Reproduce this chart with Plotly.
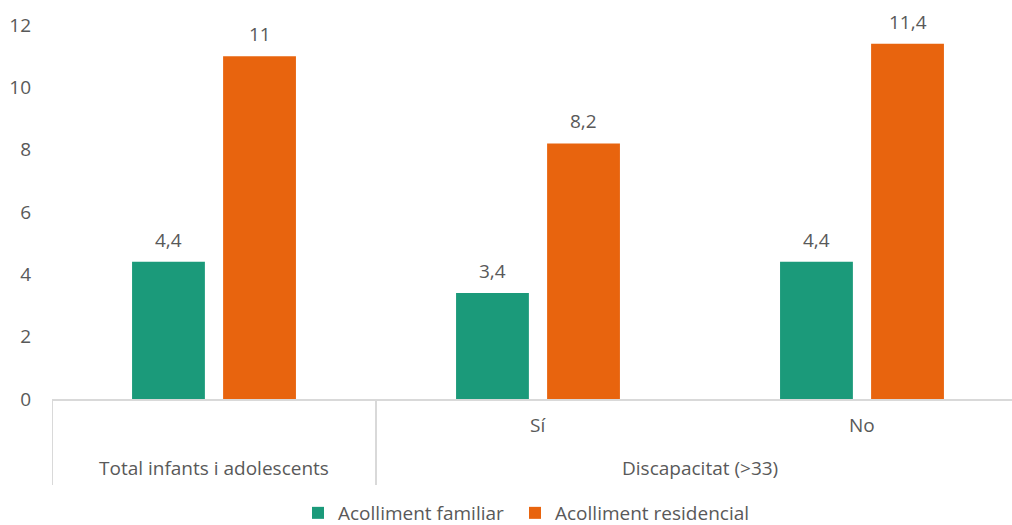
import plotly.graph_objects as go

# Categories on the x axis; the last two belong to one outer group
categories = ["Total infants i adolescents", "Sí", "No"]
group_label = "Discapacitat (>33)"
group_members = ["Sí", "No"]

series_names = ["Acolliment familiar", "Acolliment residencial"]
familiar = [4.4, 3.4, 4.4]
residencial = [11, 8.2, 11.4]

y_ticks = [0, 2, 4, 6, 8, 10, 12]

colors = ["#1b9a7a", "#e8640e"]
text_color = "#595959"
line_color = "#d9d9d9"
font_family = "Open Sans, Noto Sans, sans-serif"
fsize = 19

BARGAP = 0.438
PLOT_W = 1012 - 52
PLOT_H = 525 - 25 - 126
X_MAX = 2.463  # last category runs slightly past the right edge

def fmt(v):
    return f"{v:g}".replace(".", ",")


fig = go.Figure()
legend_ids = ["legend", "legend2"]
for name, vals, col, lg in zip(series_names, [familiar, residencial], colors, legend_ids):
    fig.add_trace(go.Bar(
        x=categories,
        y=vals,
        name=name,
        legend=lg,
        marker=dict(color=col, line=dict(width=0)),
        hovertemplate="%{x}: %{y}<extra>" + name + "</extra>",
    ))

# Value labels above each bar, offset to the bar's slot within the group
cat_px = PLOT_W / (X_MAX + 0.5)
slot_px = cat_px * (1 - BARGAP) / 2
annotations = []
for k, vals in enumerate([familiar, residencial]):
    shift = (k - 0.5) * slot_px
    for cat, v in zip(categories, vals):
        annotations.append(dict(
            x=cat, y=v, xref="x", yref="y",
            text=fmt(v), showarrow=False,
            xshift=shift, yshift=22, yanchor="middle",
            font=dict(size=fsize, color=text_color, family=font_family),
        ))

# Category labels: inner row for subcategories, outer row for groups
inner_shift = -26
outer_shift = -69
for cat in categories:
    annotations.append(dict(
        x=cat, y=0, xref="x", yref="paper", text=cat, showarrow=False,
        yanchor="middle",
        yshift=inner_shift if cat in group_members else outer_shift,
        font=dict(size=fsize, color=text_color, family=font_family),
    ))
grp_idx = [categories.index(c) for c in group_members]
annotations.append(dict(
    x=sum(grp_idx) / len(grp_idx), y=0, xref="x", yref="paper",
    text=group_label, showarrow=False, yanchor="middle", yshift=outer_shift,
    font=dict(size=fsize, color=text_color, family=font_family),
))

# Vertical dividers between outer groups
div_bottom = -86 / PLOT_H
shapes = []
for xpos in [-0.5, grp_idx[0] - 0.5]:
    shapes.append(dict(
        type="line", xref="x", yref="paper",
        x0=xpos, x1=xpos, y0=0, y1=div_bottom,
        line=dict(color=line_color, width=2),
        layer="below",
    ))

legend_style = dict(
    orientation="h",
    xanchor="left", xref="container",
    y=12 / 525, yanchor="middle", yref="container",
    font=dict(size=fsize, color=text_color),
    itemwidth=30,
    bgcolor="rgba(0,0,0,0)",
)

fig.update_layout(
    width=1012,
    height=525,
    margin=dict(l=52, r=0, t=25, b=126),
    paper_bgcolor="white",
    plot_bgcolor="white",
    barmode="group",
    bargap=BARGAP,
    bargroupgap=0.2,
    font=dict(family=font_family, size=fsize, color=text_color),
    showlegend=True,
    legend=dict(x=298 / 1012, **legend_style),
    legend2=dict(x=515 / 1012, **legend_style),
    annotations=annotations,
    shapes=shapes,
    xaxis=dict(
        type="category",
        range=[-0.5, X_MAX],
        showline=True,
        linecolor=line_color,
        linewidth=2,
        showgrid=False,
        showticklabels=False,
        ticks="",
    ),
    yaxis=dict(
        range=[0, 12],
        tickvals=y_ticks,
        showgrid=False,
        zeroline=False,
        showline=False,
        tickfont=dict(size=fsize, color=text_color),
        ticklabelstandoff=20,
    ),
)

fig.write_html("out.html")
